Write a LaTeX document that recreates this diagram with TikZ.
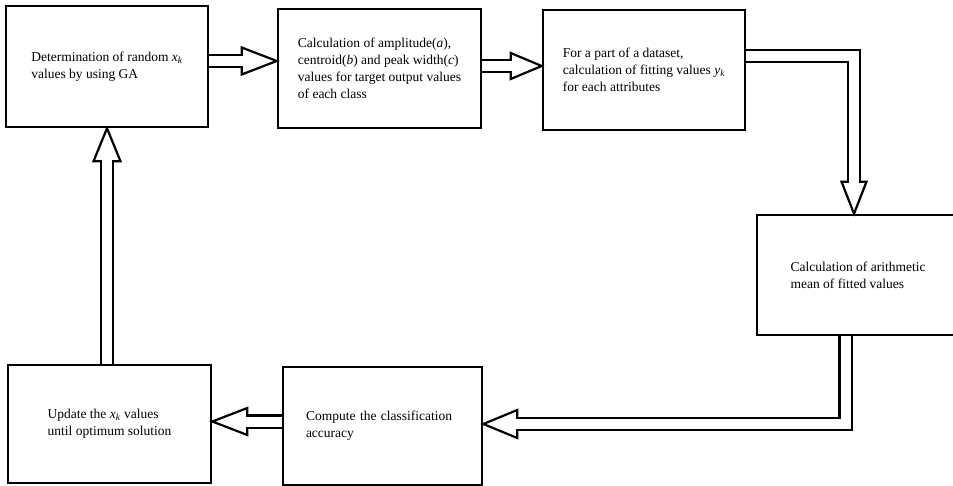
\documentclass[tikz,border=0pt]{standalone}
\usepackage{fontspec}
\setmainfont{Liberation Serif}
\usepackage{tikz}
\usetikzlibrary{calc}

\begin{document}
\begin{tikzpicture}[
          x=1pt, y=-1pt,
          font=\fontsize{13.5}{17}\selectfont,
          stage/.style={draw, line width=2.6pt, minimum width=202pt, minimum height=119pt, align=left, inner sep=0pt},
          shaft/.style={draw=black, line width=2.2pt, double=white, double distance=10pt, line join=miter},
          blockhead/.style={draw=black, fill=white, line width=2.2pt, line join=miter}
        ]
          \useasboundingbox (0,0) rectangle (953,486);
          \clip (0,0) rectangle (953,486);

          \node[stage, minimum height=121pt] (detrand) at (107,66.5) {Determination of random \textit{x}\textsubscript{\textit{k}}\\values by using GA};
          \node[stage, minimum width=203pt] (calcabc) at (379.5,68.5) {Calculation of amplitude(\textit{a}),\\centroid(\textit{b}) and peak width(\textit{c})\\values for target output values\\of each class};
          \node[stage, minimum height=120pt] (fitval) at (644,70) {For a part of a dataset,\\calculation of fitting values \textit{y}\textsubscript{\textit{k}}\\for each attributes};
          \node[stage, minimum height=120pt] (mean) at (858,275) {Calculation of arithmetic\\mean of fitted values};
          \node[stage, minimum width=199pt, minimum height=118pt, text width=153pt] (accur) at (382.5,426) {Compute the classification\\accuracy};
          \node[stage, minimum width=203pt, minimum height=118pt] (update) at (109.5,424) {Update the \textit{x}\textsubscript{\textit{k}} values\\until optimum solution};

          \coordinate (a1tip) at ([yshift=7.5pt]calcabc.west);
          \draw[blockhead] (a1tip) -- ++(-35,-13.5) -- ++(0,27) -- cycle;
          \draw[shaft] (detrand.east |- a1tip) -- ([xshift=-34pt]a1tip);

          \coordinate (a2tip) at ([yshift=4pt]fitval.west);
          \draw[blockhead] (a2tip) -- ++(-31,-13) -- ++(0,26) -- cycle;
          \draw[shaft] (calcabc.east |- a2tip) -- ([xshift=-30pt]a2tip);

          \coordinate (a3start) at ([yshift=14pt]fitval.east);
          \coordinate (a3tip) at ([xshift=-4pt]mean.north);
          \draw[blockhead] (a3tip) -- ++(-12.5,-32) -- ++(25,0) -- cycle;
          \draw[shaft] (a3start) -| ([yshift=31pt]a3tip);

          \coordinate (a4start) at ([xshift=-12.5pt]mean.south);
          \coordinate (a4tip) at ([yshift=2pt]accur.east);
          \draw[blockhead] (a4tip) -- ++(34,-14) -- ++(0,28) -- cycle;
          \draw[shaft] (a4start) |- ([xshift=33pt]a4tip);

          \coordinate (a5tip) at ([yshift=2.5pt]update.east);
          \draw[blockhead] (a5tip) -- ++(35,-13.5) -- ++(0,27) -- cycle;
          \draw[shaft] (accur.west |- a5tip) -- ([xshift=34pt]a5tip);

          \coordinate (a6tip) at (detrand.south);
          \draw[blockhead] (a6tip) -- ++(-13.5,33) -- ++(27,0) -- cycle;
          \draw[shaft] (a6tip |- update.north) -- ([yshift=-32pt]a6tip);
        \end{tikzpicture}
\end{document}
